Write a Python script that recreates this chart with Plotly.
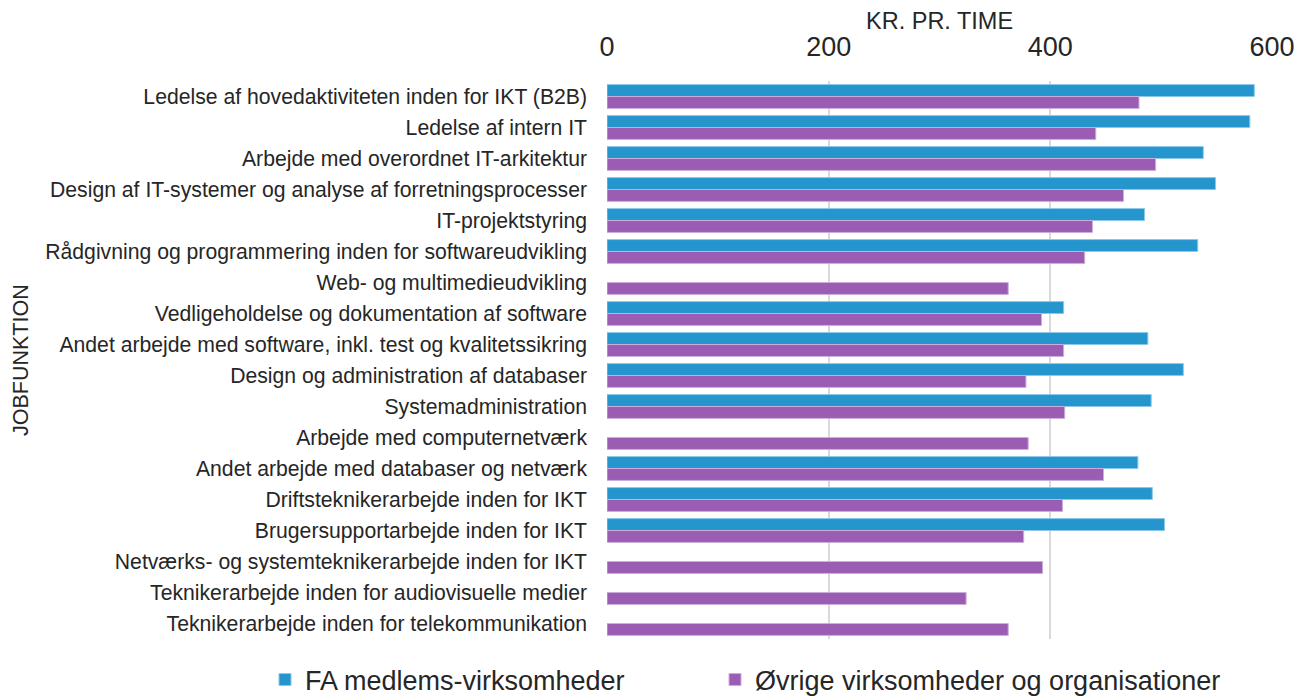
import plotly.graph_objects as go

categories = [
    "Ledelse af hovedaktiviteten inden for IKT (B2B)",
    "Ledelse af intern IT",
    "Arbejde med overordnet IT-arkitektur",
    "Design af IT-systemer og analyse af forretningsprocesser",
    "IT-projektstyring",
    "Rådgivning og programmering inden for softwareudvikling",
    "Web- og multimedieudvikling",
    "Vedligeholdelse og dokumentation af software",
    "Andet arbejde med software, inkl. test og kvalitetssikring",
    "Design og administration af databaser",
    "Systemadministration",
    "Arbejde med computernetværk",
    "Andet arbejde med databaser og netværk",
    "Driftsteknikerarbejde inden for IKT",
    "Brugersupportarbejde inden for IKT",
    "Netværks- og systemteknikerarbejde inden for IKT",
    "Teknikerarbejde inden for audiovisuelle medier",
    "Teknikerarbejde inden for telekommunikation",
]
fa_values = [584, 580, 538, 549, 485, 533, None, 412, 488, 520, 491, None, 479, 492, 503, None, None, None]
ovrige_values = [480, 441, 495, 466, 438, 431, 362, 392, 412, 378, 413, 380, 448, 411, 376, 393, 324, 362]
tick_vals = [0, 200, 400, 600]
series_names = ["FA medlems-virksomheder", "Øvrige virksomheder og organisationer"]

FONT = "Liberation Sans, Arial, sans-serif"
TXT = "#262626"

# page has an 8px body margin; figure coordinates = page - 8
W, H = 1301, 689
L, R, T, B = 599, 37, 73, 58
pw = W - L - R
ph = H - T - B

fig = go.Figure()
fig.add_trace(go.Bar(
    y=categories, x=fa_values, orientation="h", name=series_names[0],
    marker=dict(color="#2595CD", line=dict(color="#8cc8e8", width=1)),
    legend="legend",
))
fig.add_trace(go.Bar(
    y=categories, x=ovrige_values, orientation="h", name=series_names[1],
    marker=dict(color="#9B5CB4", line=dict(color="#cdaedb", width=1)),
    legend="legend2",
))

leg_y = -(672 - (H - B)) / ph
leg_common = dict(
    orientation="h", xanchor="left", yanchor="middle", y=leg_y,
    font=dict(size=27, color=TXT, family=FONT),
    bgcolor="rgba(0,0,0,0)", borderwidth=0, itemclick=False, itemdoubleclick=False,
)

fig.update_layout(
    width=W, height=H,
    margin=dict(l=L, r=R, t=T, b=B, autoexpand=False),
    paper_bgcolor="white", plot_bgcolor="white",
    barmode="group", bargap=0.23, bargroupgap=0,
    font=dict(family=FONT, color=TXT),
    showlegend=True,
    legend=dict(x=(257 - L) / pw, **leg_common),
    legend2=dict(x=(707 - L) / pw, **leg_common),
)
fig.update_xaxes(
    side="top", range=[0, 600], tickvals=tick_vals,
    tickfont=dict(size=27, color=TXT),
    showgrid=True, gridcolor="#d9d9d9", gridwidth=2,
    zeroline=False, showline=False, ticks="",
    ticklabelstandoff=19, automargin=False,
)
fig.update_yaxes(
    autorange="reversed", tickfont=dict(size=21.2, color=TXT),
    ticks="", ticklen=0, showline=False, showgrid=False,
    ticklabelstandoff=19, automargin=False,
)
fig.add_annotation(
    text="KR. PR. TIME", xref="paper", yref="paper",
    x=0.5, y=1 + (T - 13) / ph, xanchor="center", yanchor="middle",
    showarrow=False, font=dict(size=23.5, color=TXT),
)
fig.add_annotation(
    text="JOBFUNKTION", textangle=-90, xref="paper", yref="paper",
    x=-(L - 13) / pw, y=0.5, xanchor="center", yanchor="middle",
    showarrow=False, font=dict(size=21.5, color=TXT),
)

fig.write_html("out.html")
